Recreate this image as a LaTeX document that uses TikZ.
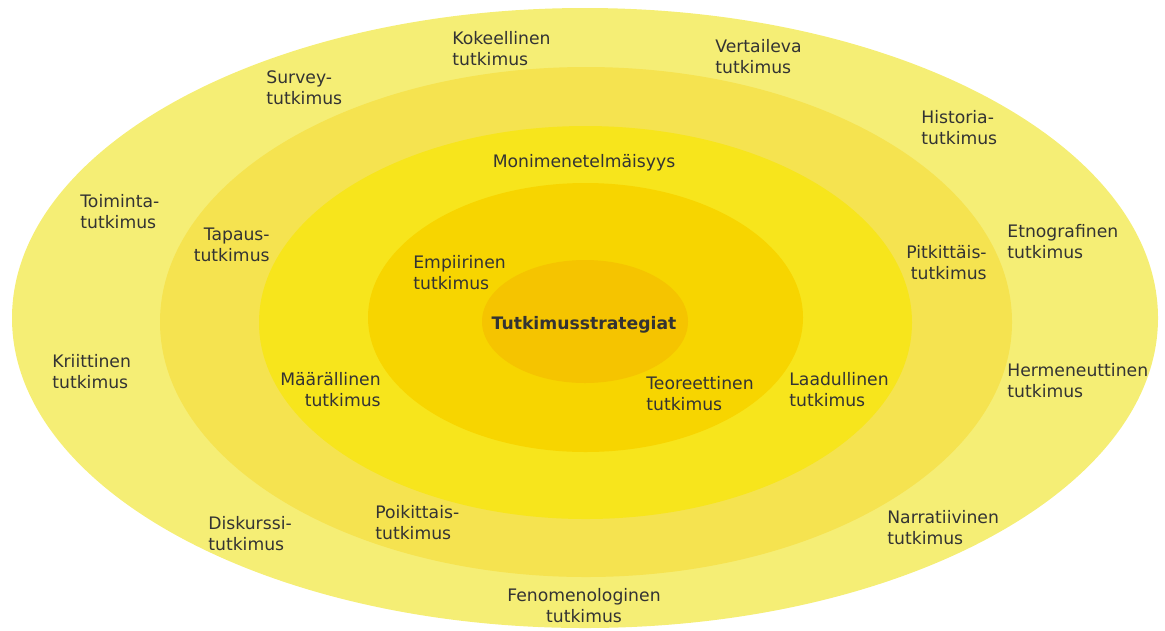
\documentclass[tikz,border=0pt]{standalone}
\usepackage{fontspec}
\setmainfont{DejaVu Sans}
\definecolor{ringA}{HTML}{F5EE75}
\definecolor{ringB}{HTML}{F5E350}
\definecolor{ringC}{HTML}{F7E51C}
\definecolor{ringD}{HTML}{F7D500}
\definecolor{ringE}{HTML}{F5C400}
\definecolor{txtgray}{HTML}{333333}
\begin{document}
\begin{tikzpicture}[x=0.02cm, y=-0.02cm,
    lbl/.style={text=txtgray, font=\fontsize{9.8}{11.9}\selectfont, inner sep=0pt}]
    \useasboundingbox (0,0) rectangle (1165,630);
    % Rings
    \fill[ringA] (585,318) ellipse [x radius=573, y radius=310];
    \fill[ringB] (586,322) ellipse [x radius=426, y radius=255];
    \fill[ringC] (585.5,322.5) ellipse [x radius=326.5, y radius=196.5];
    \fill[ringD] (585.5,317.5) ellipse [x radius=217.5, y radius=134.5];
    \fill[ringE] (585,321.5) ellipse [x radius=103, y radius=61.5];
    % Centre
    \node[lbl, font=\fontsize{9.8}{11.9}\selectfont\bfseries] (strategiat) at (584,325) {Tutkimusstrategiat};
    % Left aligned labels
    \foreach \n/\x/\y/\t in {kokeellinen/452/49/{Kokeellinen\\tutkimus}, vertaileva/715/57/{Vertaileva\\tutkimus},
        survey/266/88/{Survey-\\tutkimus}, historia/921/128/{Historia-\\tutkimus},
        toiminta/80/212/{Toiminta-\\tutkimus}, etnografinen/1007/242/{Etnografinen\\tutkimus},
        empiirinen/413/273/{Empiirinen\\tutkimus}, kriittinen/52/372/{Kriittinen\\tutkimus},
        hermeneuttinen/1007/381/{Hermeneuttinen\\tutkimus}, teoreettinen/646/394/{Teoreettinen\\tutkimus},
        laadullinen/789/390/{Laadullinen\\tutkimus}, diskurssi/208/534/{Diskurssi-\\tutkimus},
        poikittais/375/523/{Poikittais-\\tutkimus}, narratiivinen/887/528/{Narratiivinen\\tutkimus}}
        \node[lbl, anchor=west, align=left] (\n) at (\x,\y) {\t};
    % Right aligned labels
    \foreach \n/\x/\y/\t in {tapaus/270/245/{Tapaus-\\tutkimus}, pitkittais/987/263/{Pitkittäis-\\tutkimus},
        maarallinen/381/390/{Määrällinen\\tutkimus}}
        \node[lbl, anchor=east, align=right] (\n) at (\x,\y) {\t};
    % Centred labels
    \node[lbl] (monimenetelmaisyys) at (584,163) {Monimenetelmäisyys};
    \node[lbl, align=center] (fenomenologinen) at (584,606) {Fenomenologinen\\tutkimus};
\end{tikzpicture}
\end{document}
